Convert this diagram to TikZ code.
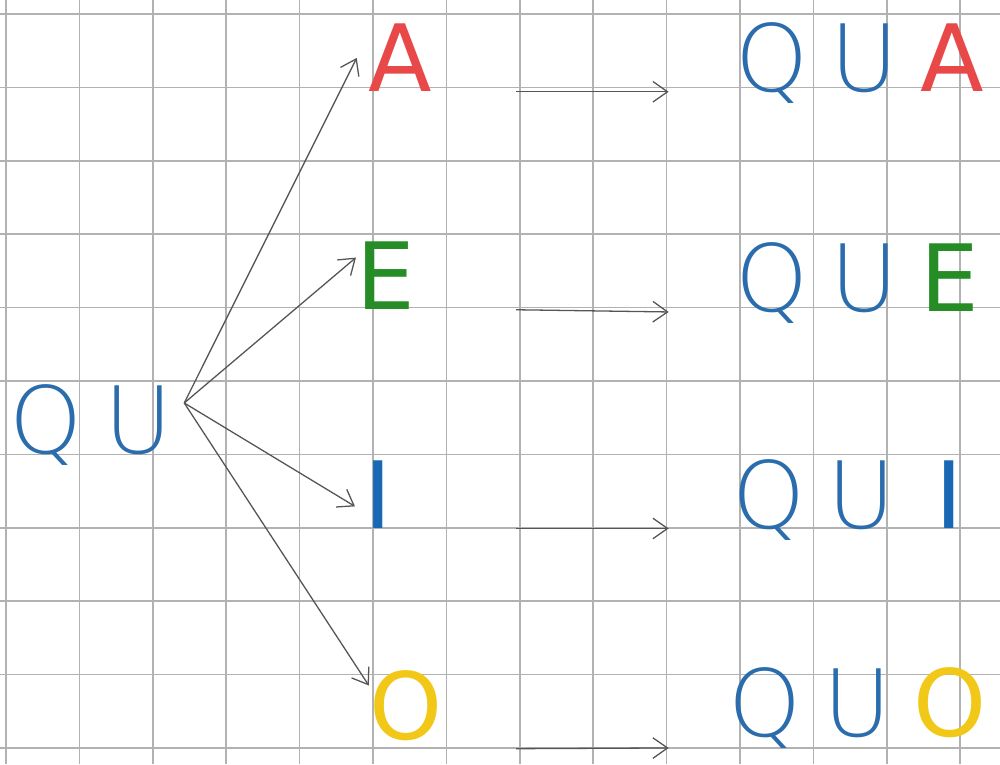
\documentclass[tikz,border=0pt]{standalone}
\usepackage{fontspec}
\IfFontExistsTF{DejaVu Sans ExtraLight}
  {\newfontfamily\penfont{DejaVu Sans ExtraLight}}
  {\newfontfamily\penfont{Liberation Sans}}
\newfontfamily\markerfont{DejaVu Sans}
\usepackage{xcolor}
\definecolor{gridgray}{RGB}{178,178,178}
\definecolor{pencil}{RGB}{85,85,85}
\definecolor{penblue}{RGB}{42,108,172}
\definecolor{markred}{RGB}{232,72,72}
\definecolor{markgreen}{RGB}{38,140,38}
\definecolor{markblue}{RGB}{24,104,182}
\definecolor{markyellow}{RGB}{242,200,24}
\usetikzlibrary{arrows.meta}
\newcommand\lgap{\hspace{0.3cm}}
\tikzset{
  syll/.style  ={inner sep=0pt,font=\penfont\fontsize{36}{40}\selectfont,text=penblue},
  vowel/.style ={inner sep=0pt,font=\markerfont\fontsize{36}{40}\selectfont},
  fanarrow/.style={-{Straight Barb[length=2mm,width=2.8mm]},line width=0.5pt,draw=pencil},
  gridline/.style={draw=gridgray,line width=0.6pt},
}

\begin{document}
\begin{tikzpicture}[x=1cm,y=1cm]
  \useasboundingbox (0,0) rectangle (13.624,-10.409);
  % ---- squared paper --------------------------------------------------
  \foreach \k in {0,...,13}
    \draw[gridline] (0.082+\k,0) -- (0.082+\k,-10.409);
  \foreach \k in {0,...,10}
    \draw[gridline] (0,-0.19-\k) -- (13.624,-0.19-\k);

  % ---- start syllable and vowels ----------------------------------------
  \node[syll,anchor=base west] (qu) at (0.12,-6.18) {Q\lgap U};
  \node[vowel,anchor=base west,text=markred] (a) at (5.01,-1.25) {A};
  \node[vowel,anchor=base west,text=markgreen] (e) at (4.85,-4.22) {E};
  \node[vowel,anchor=base,text=markblue] (i) at (5.15,-7.20) {I};
  \node[vowel,anchor=base,text=markyellow] (o) at (5.53,-10.08) {O};
  \coordinate (fan) at (2.51,-5.49);
  \draw[fanarrow] (fan) -- ([xshift=-0.15cm]a.west);
  \draw[fanarrow] (fan) -- ([yshift=0.25cm]e.west);
  \draw[fanarrow] (fan) -- ([xshift=-0.12cm,yshift=-0.16cm]i.west);
  \draw[fanarrow] (fan) -- ([yshift=0.28cm]o.west);

  % ---- joined syllables (right) -----------------------------------------
  \node[syll,anchor=base west] (qua) at (10.01,-1.25)
    {Q\lgap U\lgap{\markerfont\color{markred}A}};
  \node[syll,anchor=base west] (que) at (10.01,-4.25)
    {Q\lgap U\lgap{\markerfont\color{markgreen}E}};
  \node[syll,anchor=base west] (qui) at (9.97,-7.20)
    {Q\lgap U\lgap\hspace{0.25cm}{\markerfont\color{markblue}I}};
  \node[syll,anchor=base west] (quo) at (9.92,-10.04)
    {Q\lgap U\lgap{\markerfont\color{markyellow}O}};
  \coordinate (from) at (7.03,0);
  \coordinate (to) at (9.11,0);
  \draw[fanarrow] (a.base -| from) -- (qua.base -| to);
  \draw[fanarrow] (e.base -| from) -- (que.base -| to);
  \draw[fanarrow] (i.base -| from) -- (qui.base -| to);
  \draw[fanarrow] ([yshift=-0.12cm]o.base -| from) -- ([yshift=-0.15cm]quo.base -| to);
\end{tikzpicture}
\end{document}
